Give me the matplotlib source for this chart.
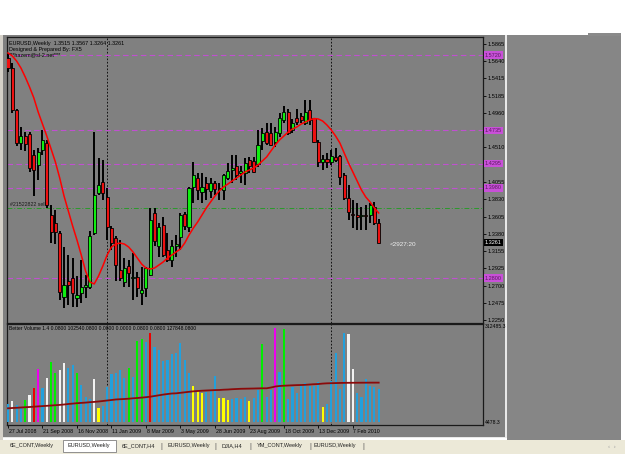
import numpy as np
import matplotlib.pyplot as plt
from matplotlib.patches import Rectangle

plt.rcParams['font.family'] = ['Liberation Sans', 'DejaVu Sans']

W, H = 625, 454

# weekly EURUSD candles, 27 Jul 2008 .. 21 Mar 2010
opens = [1.5682, 1.5551, 1.5001, 1.4568, 1.4660, 1.4680, 1.4411, 1.4280, 1.4477, 1.4568,
         1.3625, 1.3520, 1.3390, 1.2551, 1.2760, 1.2800, 1.2535, 1.2604, 1.2686, 1.2686,
         1.3387, 1.3914, 1.4057, 1.3861, 1.3455, 1.3324, 1.2905, 1.2752, 1.2957, 1.2800,
         1.2818, 1.2608, 1.2665, 1.2839, 1.3650, 1.3215, 1.3494, 1.3167, 1.3036, 1.3219,
         1.3342, 1.3638, 1.3473, 1.3997, 1.4105, 1.3927, 1.4044, 1.3935, 1.4044, 1.3979,
         1.3953, 1.4110, 1.4220, 1.4263, 1.4175, 1.4175, 1.4346, 1.4330, 1.4294, 1.4590,
         1.4717, 1.4699, 1.4581, 1.4699, 1.4870, 1.4979, 1.4739, 1.4892, 1.4918, 1.4826,
         1.5001, 1.4892, 1.4586, 1.4315, 1.4358, 1.4325, 1.4389, 1.4398, 1.4149, 1.3845,
         1.3643, 1.3625, 1.3610, 1.3620, 1.3625, 1.3735, 1.3515]
highs = [1.5747, 1.5616, 1.5010, 1.4778, 1.4712, 1.4717, 1.4477, 1.4503, 1.4739, 1.4608,
         1.3756, 1.3690, 1.3420, 1.3206, 1.3101, 1.3062, 1.2820, 1.3036, 1.2839, 1.3411,
         1.4717, 1.4372, 1.4346, 1.3980, 1.3480, 1.3346, 1.3298, 1.3058, 1.3036, 1.3124,
         1.2885, 1.2948, 1.2948, 1.3713, 1.3713, 1.3517, 1.3604, 1.3386, 1.3298, 1.3363,
         1.3652, 1.3670, 1.3997, 1.4324, 1.4175, 1.4175, 1.4127, 1.4110, 1.4070, 1.4044,
         1.4160, 1.4306, 1.4411, 1.4411, 1.4263, 1.4372, 1.4389, 1.4389, 1.4739, 1.4761,
         1.4826, 1.4826, 1.4782, 1.4957, 1.5053, 1.5020, 1.4880, 1.5020, 1.4957, 1.5132,
         1.5132, 1.4900, 1.4608, 1.4411, 1.4433, 1.4477, 1.4498, 1.4411, 1.4175, 1.4018,
         1.3822, 1.3778, 1.3735, 1.3756, 1.3778, 1.3800, 1.3567]
lows = [1.5498, 1.4961, 1.4529, 1.4477, 1.4463, 1.4190, 1.3870, 1.4084, 1.4411, 1.3717,
        1.3259, 1.3245, 1.2512, 1.2407, 1.2447, 1.2420, 1.2420, 1.2470, 1.2535, 1.2660,
        1.3360, 1.3887, 1.3822, 1.3298, 1.3167, 1.2760, 1.2760, 1.2686, 1.2686, 1.2512,
        1.2556, 1.2447, 1.2556, 1.2820, 1.3215, 1.3080, 1.3080, 1.3016, 1.2948, 1.3080,
        1.3167, 1.3429, 1.3407, 1.3778, 1.3822, 1.3783, 1.3822, 1.3848, 1.3887, 1.3822,
        1.3822, 1.4084, 1.4044, 1.4084, 1.4044, 1.4018, 1.4175, 1.4175, 1.4260, 1.4477,
        1.4542, 1.4530, 1.4520, 1.4652, 1.4826, 1.4673, 1.4700, 1.4804, 1.4826, 1.4810,
        1.4804, 1.4568, 1.4260, 1.4215, 1.4237, 1.4280, 1.4324, 1.4018, 1.3822, 1.3560,
        1.3451, 1.3429, 1.3429, 1.3429, 1.3517, 1.3494, 1.3261]
closes = [1.5551, 1.5001, 1.4568, 1.4660, 1.4560, 1.4241, 1.4215, 1.4450, 1.4608, 1.3756,
          1.3403, 1.3400, 1.2617, 1.2708, 1.2708, 1.2604, 1.2577, 1.2682, 1.2708, 1.3350,
          1.3887, 1.4018, 1.3914, 1.3468, 1.3259, 1.2970, 1.2795, 1.2928, 1.2861, 1.2818,
          1.2665, 1.2643, 1.2928, 1.3560, 1.3279, 1.3473, 1.3101, 1.3036, 1.3219, 1.3245,
          1.3625, 1.3481, 1.3975, 1.4149, 1.3953, 1.3992, 1.3966, 1.4044, 1.3966, 1.3960,
          1.4149, 1.4197, 1.4241, 1.4149, 1.4197, 1.4306, 1.4263, 1.4194, 1.4542, 1.4699,
          1.4568, 1.4542, 1.4717, 1.4892, 1.4979, 1.4699, 1.4826, 1.4848, 1.4870, 1.4979,
          1.4870, 1.4586, 1.4326, 1.4358, 1.4325, 1.4398, 1.4346, 1.4127, 1.3845, 1.3670,
          1.3621, 1.3603, 1.3620, 1.3612, 1.3756, 1.3517, 1.3261]
ma_line = [1.5747, 1.5708, 1.5642, 1.5551, 1.5433, 1.5302, 1.5158, 1.4974, 1.4817, 1.4660,
           1.4490, 1.4319, 1.4110, 1.3874, 1.3678, 1.3481, 1.3298, 1.3101, 1.2892, 1.2748,
           1.2722, 1.2826, 1.2957, 1.3101, 1.3206, 1.3245, 1.3258, 1.3245, 1.3206, 1.3141,
           1.3062, 1.2984, 1.2931, 1.2918, 1.2931, 1.2970, 1.3010, 1.3062, 1.3101, 1.3141,
           1.3180, 1.3258, 1.3363, 1.3455, 1.3534, 1.3625, 1.3717, 1.3796, 1.3874, 1.3940,
           1.3992, 1.4031, 1.4071, 1.4110, 1.4149, 1.4189, 1.4215, 1.4241, 1.4280, 1.4333,
           1.4385, 1.4464, 1.4542, 1.4608, 1.4660, 1.4712, 1.4752, 1.4778, 1.4817, 1.4843,
           1.4870, 1.4889, 1.4883, 1.4856, 1.4804, 1.4739, 1.4660, 1.4568, 1.4437, 1.4306,
           1.4189, 1.4071, 1.3953, 1.3861, 1.3796, 1.3717, 1.3652]

volume = [56600, 68400, 54300, 45400, 70700, 87200, 109200, 171700, 109200, 142100,
          196700, 158500, 169400, 191400, 175000, 185800, 160500, 120000, 79600, 73000,
          139800, 45400, 51000, 112500, 156200, 158500, 169400, 144100, 175000, 145400,
          264800, 270400, 260500, 290100, 244000, 235200, 200000, 202300, 222000, 224300,
          257200, 202300, 160500, 116800, 100300, 94700, 98000, 103600, 149600, 76300,
          76300, 70700, 73000, 76300, 73000, 79600, 68400, 76300, 103600, 254900,
          79600, 103600, 306500, 163800, 303200, 73000, 114500, 94700, 120000, 125600,
          116800, 116800, 130900, 48700, 56600, 134200, 224300, 105900, 292100, 287800,
          172700, 92700, 81600, 138800, 116800, 112500, 105900]
vol_kind = list("bwbbgwrmbwggwwbbgbbbwybbbbbbgbggbrbbbbbbbbbyyybbbyyybbbbybbgbbmbgbbbbbbbbybbbbbwwbbbbbbb")
vol_ma = [43400, 44400, 45100, 46000, 47000, 47700, 48700, 49700, 50700, 51600,
          52600, 53600, 54600, 55900, 57600, 58900, 60200, 61200, 62200, 63500,
          64500, 65800, 67400, 69100, 70700, 72400, 73300, 74000, 75000, 76300,
          77300, 78600, 79900, 81600, 83900, 86200, 88500, 90400, 92100, 92700,
          94400, 96000, 97700, 99300, 100300, 101300, 102000, 102600, 103300, 103600,
          104600, 105200, 106200, 106900, 107600, 107900, 108200, 108500, 108900, 109200,
          109200, 111800, 115100, 116800, 117700, 118400, 119100, 119700, 120000, 120700,
          121700, 122700, 123300, 124700, 125600, 126000, 126400, 126800, 127100, 127300,
          127400, 127500, 127600, 127700, 127800, 127830, 127848]

price_ticks = [1.5865, 1.5640, 1.5415, 1.5185, 1.4960, 1.4735, 1.4510, 1.4295, 1.4055,
               1.3830, 1.3605, 1.3380, 1.3155, 1.2925, 1.2700, 1.2475, 1.2250]
levels = [1.5720, 1.4735, 1.4295, 1.3980, 1.2800]
order_level = 1.3717
date_pos = [0, 8, 16, 24, 32, 40, 48, 56, 64, 72, 80]
date_labels = ["27 Jul 2008", "21 Sep 2008", "16 Nov 2008", "11 Jan 2009", "8 Mar 2009",
               "3 May 2009", "28 Jun 2009", "23 Aug 2009", "18 Oct 2009", "13 Dec 2009",
               "7 Feb 2010"]
separators = [23, 75]
tabs = ["6E_CONT,Weekly", "EURUSD,Weekly", "6E_CONT,H4", "EURUSD,Weekly", "DJIA,H4",
        "YM_CONT,Weekly", "EURUSD,Weekly"]
tab_x = [10, 68, 122, 167, 222, 257, 313]
tab_bars = [161, 215, 250, 310, 363]

idx = np.arange(len(closes))
vol_cols = {'b': '#22a0dc', 'w': '#f2f2f2', 'g': '#00ee00', 'r': '#ee0000',
            'm': '#ee00ee', 'y': '#ffff00'}

fig = plt.figure(figsize=(W / 100, H / 100), dpi=100)
fig.patch.set_facecolor('white')


def frect(x0, y0, x1, y1, **kw):
    fig.add_artist(Rectangle((x0 / W, 1 - y1 / H), (x1 - x0) / W, (y1 - y0) / H,
                             transform=fig.transFigure, zorder=-5, **kw))


def box(x0, y0, x1, y1):
    return [x0 / W, 1 - y1 / H, (x1 - x0) / W, (y1 - y0) / H]


# window background pieces
frect(0, 35, 3, 440, facecolor='#d4d0c8', edgecolor='none')
frect(3, 35, 505, 437, facecolor='#808080', edgecolor='none')
frect(505, 35, 507, 438, facecolor='#e8e8e8', edgecolor='none')
frect(507, 35, 621, 440, facecolor='#868686', edgecolor='none')
frect(588, 33, 621, 36, facecolor='#8a8a8a', edgecolor='none')
frect(3, 437, 505, 438, facecolor='#e8e8e8', edgecolor='none')
frect(0, 440, 625, 454, facecolor='#ece9d8', edgecolor='none')

ax = fig.add_axes(box(7, 37, 483, 323))
vax = fig.add_axes(box(7, 324, 483, 425), sharex=ax)
for a in (ax, vax):
    a.set_facecolor('#808080')
    for s in a.spines.values():
        s.set_color('#1a1a1a')
        s.set_linewidth(0.9)

# candles
ax.vlines(idx, lows, highs, color='black', lw=1.4, zorder=3)
o = np.array(opens)
c = np.array(closes)
body_h = np.maximum(np.abs(c - o), 0.0008)
body_c = ['#11ee11' if cc >= oo else '#ee1111' for oo, cc in zip(o, c)]
ax.bar(idx, body_h, bottom=np.minimum(o, c), width=0.72, color=body_c,
       edgecolor='black', linewidth=0.6, zorder=4)
ax.plot(idx, ma_line, color='#ff0000', lw=1.1, zorder=5)

for lv in levels:
    ax.axhline(lv, color='#c050d0', lw=0.8, ls=(0, (5, 3)), zorder=2)
    ax.text(1.004, lv, f"{lv:.4f}", transform=ax.get_yaxis_transform(), fontsize=4,
            color='#5a1a60', va='center', ha='left', clip_on=False,
            bbox=dict(boxstyle='square,pad=0.2', fc='#c850d8', ec='none'))
ax.axhline(order_level, color='#2a9a2a', lw=0.7, ls=(0, (5, 2, 1, 2)), zorder=2)
ax.text(1.004, closes[-1], f"{closes[-1]:.4f}", transform=ax.get_yaxis_transform(),
        fontsize=4, color='white', va='center', ha='left', clip_on=False,
        bbox=dict(boxstyle='square,pad=0.2', fc='black', ec='none'))

for sp in separators:
    ax.axvline(sp, color='black', lw=0.6, ls=(0, (2, 2)), zorder=1)
    vax.axvline(sp, color='black', lw=0.6, ls=(0, (2, 2)), zorder=1)

ax.set_xlim(-0.23, 110.2)
ax.set_ylim(1.22108, 1.59567)
ax.yaxis.tick_right()
ax.set_yticks(price_ticks)
# ticks that sit under a level box show their value in the box instead
ax.set_yticklabels(["" if any(abs(t - lv) < 0.004 for lv in levels) else f"{t:.4f}"
                    for t in price_ticks])
ax.tick_params(axis='y', length=2, width=0.6, pad=1, labelsize=4.1, colors='black')
ax.tick_params(axis='x', bottom=False, labelbottom=False)

ax.text(0.005, 0.978, "EURUSD,Weekly  1.3515 1.3567 1.3264 1.3261", transform=ax.transAxes,
        fontsize=3.9, va='center', color='black')
ax.text(0.005, 0.958, "Designed & Prepared By: FX5", transform=ax.transAxes,
        fontsize=3.9, va='center', color='black')
ax.text(0.003, 0.937, "***hazem@sl-2.net***", transform=ax.transAxes,
        fontsize=3.9, va='center', color='black')
ax.text(0.006, order_level + 0.0040, "#21522822 sell", fontsize=3.8, va='center',
        color='#1a1a1a', transform=ax.get_yaxis_transform())
ax.text(88.6, closes[-1] - 0.0028, "<2927:20", fontsize=4.6, va='center', color='#eeeeee')

# volume panel
vax.bar(idx, volume, width=0.5, color=[vol_cols[k] for k in vol_kind], zorder=3)
vax.plot(idx, vol_ma, color='#8b0a0a', lw=1.3, zorder=4)
vax.set_ylim(-11500, 320700)
vax.set_yticks([])
vax.set_xticks(date_pos)
vax.tick_params(axis='x', length=2, width=0.6, labelbottom=False, colors='black')
for p, lab in zip(date_pos, date_labels):
    vax.text(p + 0.15, -0.06, lab, transform=vax.get_xaxis_transform(), fontsize=3.8,
             va='center', ha='left', color='black')
vax.text(0.005, 0.955, "Better Volume 1.4 0.0800 102540.0800 0.0800 0.0000 0.0800 0.0800 127848.0800",
         transform=vax.transAxes, fontsize=3.6, va='center', color='black')
vax.text(1.004, 0.975, "312485.3", transform=vax.transAxes, fontsize=3.7, va='center')
vax.text(1.004, 0.02, "4478.3", transform=vax.transAxes, fontsize=3.7, va='center')

# tabs
frect(63, 440, 116, 452, facecolor='white', edgecolor='#808080', linewidth=0.6)
for tx, name in zip(tab_x, tabs):
    fig.text(tx / W, 1 - 446 / H, name, fontsize=4.0, ha='left', va='center', color='#222222')
for bx in tab_bars:
    fig.text(bx / W, 1 - 446 / H, "|", fontsize=5, ha='center', va='center', color='#555555')
fig.text(612 / W, 1 - 446 / H, "\u2039  \u203a", fontsize=4.5, ha='center', va='center',
         color='#a0a0a0')

fig.savefig("out.png", dpi=100, facecolor=fig.get_facecolor())
